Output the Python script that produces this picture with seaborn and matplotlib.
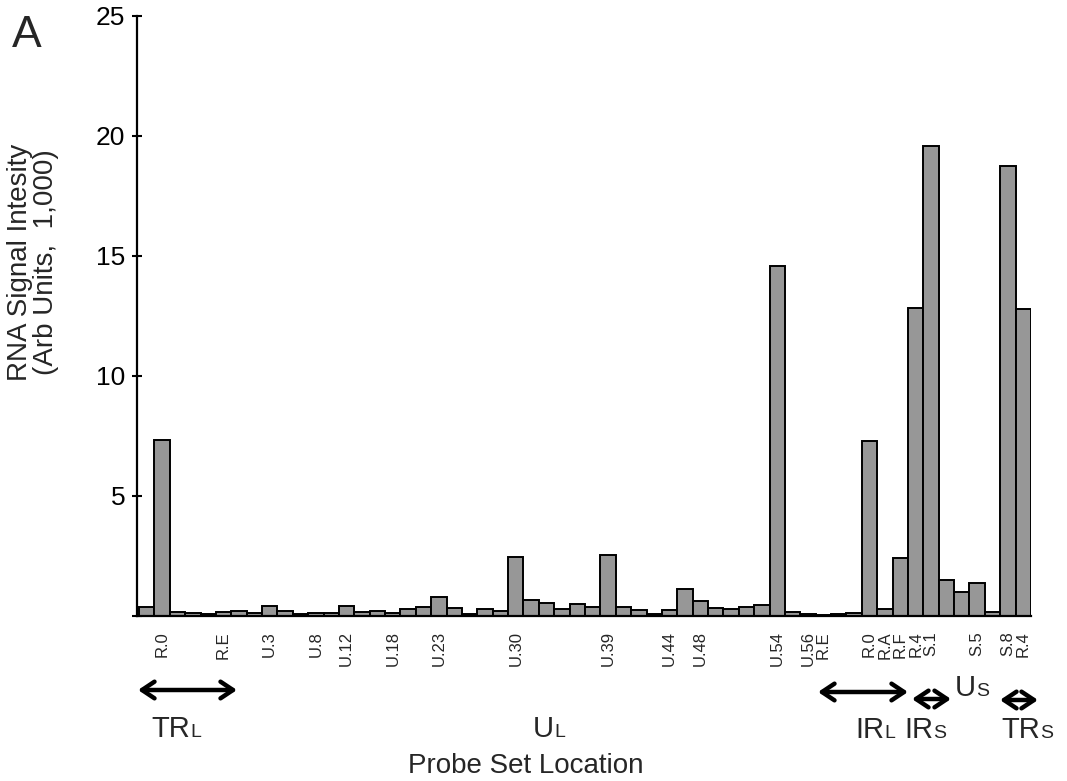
import matplotlib
matplotlib.use("Agg")
import matplotlib.pyplot as plt
from matplotlib.patches import FancyArrowPatch
import pandas as pd
import seaborn as sns

# signal per probe set, in genome order (58 probe sets)
signal = [0.36, 7.35, 0.18, 0.14, 0.08, 0.17, 0.19, 0.12, 0.40, 0.22,
          0.07, 0.11, 0.11, 0.42, 0.17, 0.19, 0.11, 0.29, 0.36, 0.78,
          0.33, 0.07, 0.28, 0.20, 2.47, 0.65, 0.53, 0.30, 0.50, 0.36,
          2.55, 0.36, 0.26, 0.07, 0.26, 1.12, 0.64, 0.33, 0.30, 0.36,
          0.46, 14.6, 0.15, 0.08, 0.06, 0.08, 0.13, 7.30, 0.30, 2.40,
          12.85, 19.6, 1.50, 0.98, 1.38, 0.18, 18.75, 12.8]
probe_idx = list(range(len(signal)))

# only some probe sets get a label on the axis
label_idx = [1, 5, 8, 11, 13, 16, 19, 24, 30, 34, 36, 41, 43, 44,
             47, 48, 49, 50, 51, 54, 56, 57]
label_txt = ["R.0", "R.E", "U.3", "U.8", "U.12", "U.18", "U.23", "U.30",
             "U.39", "U.44", "U.48", "U.54", "U.56", "R.E",
             "R.0", "R.A", "R.F", "R.4", "S.1", "S.5", "S.8", "R.4"]

W, H = 1067, 781

df = pd.DataFrame({"probe": probe_idx, "signal": signal})

sns.set_theme(style="white")
plt.rcParams["font.family"] = ["Liberation Sans", "DejaVu Sans"]

fig = plt.figure(figsize=(W / 100, H / 100), dpi=100)
ax = fig.add_axes([137 / W, 1 - 616 / H, (1031 - 137) / W, 600 / H])

sns.barplot(data=df, x="probe", y="signal", color="#979797", saturation=1,
            width=1.0, edgecolor="black", linewidth=1.4, ax=ax)

ax.set_xlim(-0.63, len(signal) - 0.5)
ax.set_ylim(0, 25)
ax.set_xlabel("")
ax.set_ylabel("")

ax.set_yticks([0, 5, 10, 15, 20, 25])
ax.set_yticklabels(["", "5", "10", "15", "20", "25"], fontsize=19)
ax.tick_params(axis="y", direction="inout", length=7, width=1.5, pad=5,
               left=True, colors="black")
ax.set_xticks(label_idx)
ax.set_xticklabels(label_txt, rotation=90, fontsize=12, va="top")
ax.tick_params(axis="x", length=0, pad=11)

for s in ["top", "right"]:
    ax.spines[s].set_visible(False)
for s in ["left", "bottom"]:
    ax.spines[s].set_color("black")
    ax.spines[s].set_linewidth(1.6)

# y label, two lines
fig.text(20 / W, 1 - 262 / H, "RNA Signal Intesity", rotation=90,
         ha="center", va="center", fontsize=20)
fig.text(46 / W, 1 - 262 / H, "(Arb Units,  1,000)", rotation=90,
         ha="center", va="center", fontsize=20)

fig.text(12 / W, 1 - 47 / H, "A", fontsize=32, va="baseline")
fig.text(526 / W, 1 - 773 / H, "Probe Set Location", fontsize=20,
         ha="center", va="baseline")


def region(x, y, big, small):
    fig.text(x / W, 1 - y / H, big, fontsize=21, ha="right", va="baseline")
    fig.text(x / W, 1 - y / H, small, fontsize=14, ha="left", va="baseline")


region(190, 737, "TR", "L")
region(554, 737, "U", "L")
region(884, 738, "IR", "L")
region(933, 738, "IR", "S")
region(976, 696, "U", "S")
region(1040, 738, "TR", "S")

# genome region arrows
arrows = [(138, 237, 690), (818, 908, 692), (912, 951, 699), (1000, 1038, 700)]
for x0, x1, y in arrows:
    fig.add_artist(FancyArrowPatch(
        (x0 / W, 1 - y / H), (x1 / W, 1 - y / H), transform=fig.transFigure,
        arrowstyle="<->,head_length=0.45,head_width=0.3", mutation_scale=20,
        shrinkA=0, shrinkB=0, lw=3.2, color="black"))

fig.savefig("out.png", dpi=100)
